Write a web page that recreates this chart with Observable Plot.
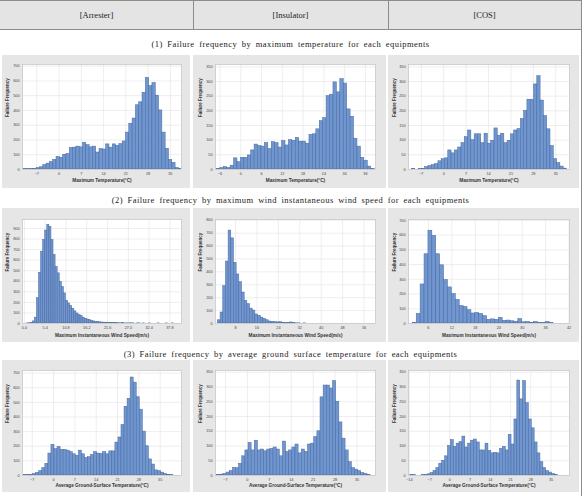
<!DOCTYPE html>
<html>
<head>
<meta charset="utf-8">
<script src="https://cdn.jsdelivr.net/npm/d3@7"></script>
<script src="https://cdn.jsdelivr.net/npm/@observablehq/plot@0.6"></script>
<style>
  body { margin: 0; background: #fff; width: 585px; height: 496px; overflow: hidden; position: relative; }
  .hdr { position: absolute; left: 0; top: 0; width: 581px; height: 28px; background: #e4e4e4;
         border-top: 1px solid #8c8c8c; border-bottom: 1px solid #8c8c8c; }
  .hcell { position: absolute; top: 0; height: 28px; line-height: 28px; text-align: center;
           font-family: "Liberation Serif", "DejaVu Serif", serif; font-size: 8.5px; color: #222; }
  .sep { position: absolute; top: 0; width: 1px; height: 28px; background: #8c8c8c; }
  .title { position: absolute; left: 0; width: 581px; height: 12px; line-height: 12px; text-align: center;
           font-family: "Liberation Serif", "DejaVu Serif", serif; font-size: 8.5px; color: #222;
           letter-spacing: 0.45px; word-spacing: 2px; }
  .panel { position: absolute; background: #e6e6e6; }
  .panel svg { display: block; }
  .rborder { position: absolute; left: 581px; top: 0; width: 1px; height: 496px; background: #8c8c8c; }
</style>
</head>
<body>
<div id="root"></div>
<script>
// ---- text ----
const equipments = ["[Arrester]", "[Insulator]", "[COS]"];
const rowTitles = [
  "(1) Failure frequency by maximum temperature for each equipments",
  "(2) Failure frequency by maximum wind instantaneous wind speed for each equipments",
  "(3) Failure frequency by average ground surface temperature for each equipments"
];
const xLabels = [
  "Maximum Temperature(°C)",
  "Maximum Instantaneous Wind Speed(m/s)",
  "Average Ground-Surface Temperature(°C)"
];
const yLabel = "Failure Frequency";

// ---- tick values ----
const ticksTemp7 = [-7, 0, 7, 14, 21, 28, 35];
const ticksTemp6 = [-6, 0, 6, 12, 18, 24, 30, 36];
const ticksGround = [-14, -7, 0, 7, 14, 21, 28, 35];
const ticksWind54 = [0, 5.4, 10.8, 16.2, 21.6, 27, 32.4, 37.8];
const ticksWind8 = [8, 16, 24, 32, 40, 48, 56];
const ticksWind6 = [6, 12, 18, 24, 30, 36, 42];
const yTicks350 = [0, 50, 100, 150, 200, 250, 300, 350];
const yTicks700 = [0, 100, 200, 300, 400, 500, 600, 700];
const yTicks800 = [0, 100, 200, 300, 400, 500, 600, 700, 800];
const yTicks900 = [0, 100, 200, 300, 400, 500, 600, 700, 800, 900];

// ---- histogram counts (failures per bin) ----
// Arrester, maximum temperature: bins from -11.2, width 1.04
const arresterTemp = [2,2,3,5,10,15,30,40,50,65,85,80,100,105,145,148,155,150,180,165,150,155,115,138,135,
  170,148,170,160,172,190,250,310,345,435,455,520,620,565,585,500,400,250,140,65,45,10,3];
// Insulator, maximum temperature: bins from -6.9, width 0.99
const insulatorTemp = [2,5,8,5,13,38,25,40,40,48,65,85,80,78,90,70,93,90,75,97,82,100,98,108,95,95,88,
  118,120,137,165,175,250,255,297,263,308,293,205,180,105,78,40,30,10,2];
// COS, maximum temperature: bins from -9.9, width 1.03
const cosTemp = [2,0,1,2,8,12,15,18,28,35,38,65,55,65,75,90,110,133,100,120,120,90,122,88,98,140,115,122,
  90,98,120,133,138,172,200,238,238,290,318,235,182,137,80,35,22,10,3];

// Arrester, maximum instantaneous wind speed: bins from 0, width 0.54
const arresterWind = [0,1,2,5,20,55,240,480,680,790,880,935,915,790,650,535,475,395,345,285,
  215,190,165,140,115,95,80,70,55,45,38,32,25,20,16,13,11,9,8,6,
  5,4,4,3,3,2,2,3,1,1,1,2,1,0,1,1,0,1,0,0,1,0,0,0,1,0,0,0,1,0,0,1];
// Insulator, maximum instantaneous wind speed: bins from 1.4, width 1
const insulatorWind = [25,85,290,480,720,660,470,380,320,240,175,150,115,100,70,60,45,35,25,15,12,10,8,10,
  5,3,5,8,2,1,1,0,1];
// COS, maximum instantaneous wind speed: bins from 2, width 1
const cosWind = [5,65,265,470,630,595,470,395,295,245,200,160,118,112,90,68,72,65,50,25,28,25,38,18,20,15,
  12,30,8,10,5,10,3,3,10,2,0];

// Arrester, average ground-surface temperature: bins from -9.7, width 1
const arresterGround = [2,3,5,10,18,30,50,80,150,210,180,195,175,175,170,160,145,135,170,145,120,125,140,160,
  150,148,160,145,165,165,225,260,345,470,525,670,635,535,450,300,200,110,75,35,30,20,10,5,2];
// Insulator, average ground-surface temperature: bins from -9.66, width 1
const insulatorGround = [2,3,5,10,15,25,25,40,65,85,110,85,118,85,88,82,88,90,95,88,65,115,80,85,95,105,75,
  88,80,105,108,130,150,265,305,305,295,320,250,180,125,85,45,25,20,15,8,5,2];
// COS, average ground-surface temperature: bins from -13.65, width 1
const cosGround = [2,1,0,0,1,2,4,8,15,25,40,50,65,100,120,97,108,113,132,95,108,118,122,112,85,85,108,83,75,
  77,75,90,97,85,138,105,190,322,258,320,245,190,160,112,75,45,25,15,10,5,2];

// ---- panel definitions ----
const panels = [
  {row: 0, col: 0, counts: arresterTemp,   start: -11.2, binW: 1.04, xDomain: [-11.5, 38.5], xTicks: ticksTemp7,  yDomain: [0, 711], yTicks: yTicks700},
  {row: 0, col: 1, counts: insulatorTemp,  start: -6.9,  binW: 0.99, xDomain: [-7.3, 38.9],  xTicks: ticksTemp6,  yDomain: [0, 358], yTicks: yTicks350},
  {row: 0, col: 2, counts: cosTemp,        start: -9.9,  binW: 1.03, xDomain: [-11, 39.3],   xTicks: ticksTemp7,  yDomain: [0, 358], yTicks: yTicks350},
  {row: 1, col: 0, counts: arresterWind,   start: 0,     binW: 0.54, xDomain: [-0.5, 40.8],  xTicks: ticksWind54, yDomain: [0, 985], yTicks: yTicks900, xFormat: d3.format(".1f")},
  {row: 1, col: 1, counts: insulatorWind,  start: 1.4,   binW: 1,    xDomain: [0.5, 60.3],   xTicks: ticksWind8,  yDomain: [0, 806], yTicks: yTicks800},
  {row: 1, col: 2, counts: cosWind,        start: 2,     binW: 1,    xDomain: [0.9, 42.1],   xTicks: ticksWind6,  yDomain: [0, 706], yTicks: yTicks700},
  {row: 2, col: 0, counts: arresterGround, start: -9.7,  binW: 1,    xDomain: [-10.2, 42],   xTicks: ticksTemp7,  yDomain: [0, 718], yTicks: yTicks700},
  {row: 2, col: 1, counts: insulatorGround,start: -9.66, binW: 1,    xDomain: [-10.2, 40.9], xTicks: ticksTemp7,  yDomain: [0, 356], yTicks: yTicks350},
  {row: 2, col: 2, counts: cosGround,      start: -13.65,binW: 1,    xDomain: [-14.3, 41.4], xTicks: ticksGround, yDomain: [0, 356], yTicks: yTicks350}
];

// ---- page layout ----
const cols = [
  {x: 2,   w: 188, ml: 20, mr: 9,  yt: -14.5, hx: 0,   hw: 193},
  {x: 193, w: 193, ml: 22, mr: 11, yt: -15,   hx: 193, hw: 195},
  {x: 388, w: 191, ml: 20, mr: 10, yt: -14,   hx: 388, hw: 193}
];
const rows = [
  {y: 55,  h: 133, mt: 9,  mb: 19, xt: 12, title: 38},
  {y: 208, h: 134, mt: 11, mb: 19, xt: 13, title: 194},
  {y: 360, h: 132, mt: 10, mb: 17, xt: 11, title: 348}
];

const root = document.getElementById("root");
function el(cls, style, text) {
  const d = document.createElement("div");
  d.className = cls;
  Object.assign(d.style, style);
  if (text != null) d.textContent = text;
  root.appendChild(d);
  return d;
}

// header band with equipment names
const hdr = el("hdr", {});
equipments.forEach((name, i) => {
  const c = document.createElement("div");
  c.className = "hcell";
  c.style.left = cols[i].hx + "px";
  c.style.width = cols[i].hw + "px";
  c.textContent = name;
  hdr.appendChild(c);
});
[193, 388].forEach(x => {
  const s = document.createElement("div");
  s.className = "sep";
  s.style.left = x + "px";
  hdr.appendChild(s);
});

rowTitles.forEach((t, i) => el("title", {top: rows[i].title + "px"}, t));
el("rborder", {});

// one histogram per panel
for (const p of panels) {
  const c = cols[p.col], r = rows[p.row];
  const bins = p.counts.map((n, i) => ({x1: p.start + i * p.binW, x2: p.start + (i + 1) * p.binW, n}));
  const box = el("panel", {left: c.x + "px", top: r.y + "px", width: c.w + "px", height: r.h + "px"});
  const chart = Plot.plot({
    width: c.w,
    height: r.h,
    marginLeft: c.ml,
    marginRight: c.mr,
    marginTop: r.mt,
    marginBottom: r.mb,
    style: {background: "transparent", fontFamily: "'Liberation Sans', Arial, sans-serif", overflow: "visible"},
    x: {domain: p.xDomain},
    y: {domain: p.yDomain},
    marks: [
      Plot.frame({fill: "white", stroke: null}),
      Plot.gridX({ticks: p.xTicks, stroke: "#e2e2e2", strokeOpacity: 1, strokeWidth: 0.6}),
      Plot.gridY({ticks: p.yTicks, stroke: "#e2e2e2", strokeOpacity: 1, strokeWidth: 0.6}),
      Plot.rectY(bins, {x1: "x1", x2: "x2", y: "n", inset: 0, fill: "#7096d0", stroke: "#46679f", strokeWidth: 0.5, clip: true}),
      Plot.frame({stroke: "#c2c2c2", strokeWidth: 0.7}),
      Plot.axisX({ticks: p.xTicks, tickFormat: p.xFormat, tickSize: 0, tickPadding: 2.5, fontSize: 3.8, fill: "#444", label: null}),
      Plot.axisY({ticks: p.yTicks, tickSize: 0, tickPadding: 3, fontSize: 3.8, fill: "#444", label: null}),
      Plot.text([xLabels[p.row]], {frameAnchor: "bottom", dy: r.xt, fontSize: 4.7, fontWeight: "bold", fill: "#333"}),
      Plot.text([yLabel], {frameAnchor: "left", dx: c.yt, rotate: -90, fontSize: 4.5, fontWeight: "bold", fill: "#333"})
    ]
  });
  box.appendChild(chart);
}
</script>
</body>
</html>
